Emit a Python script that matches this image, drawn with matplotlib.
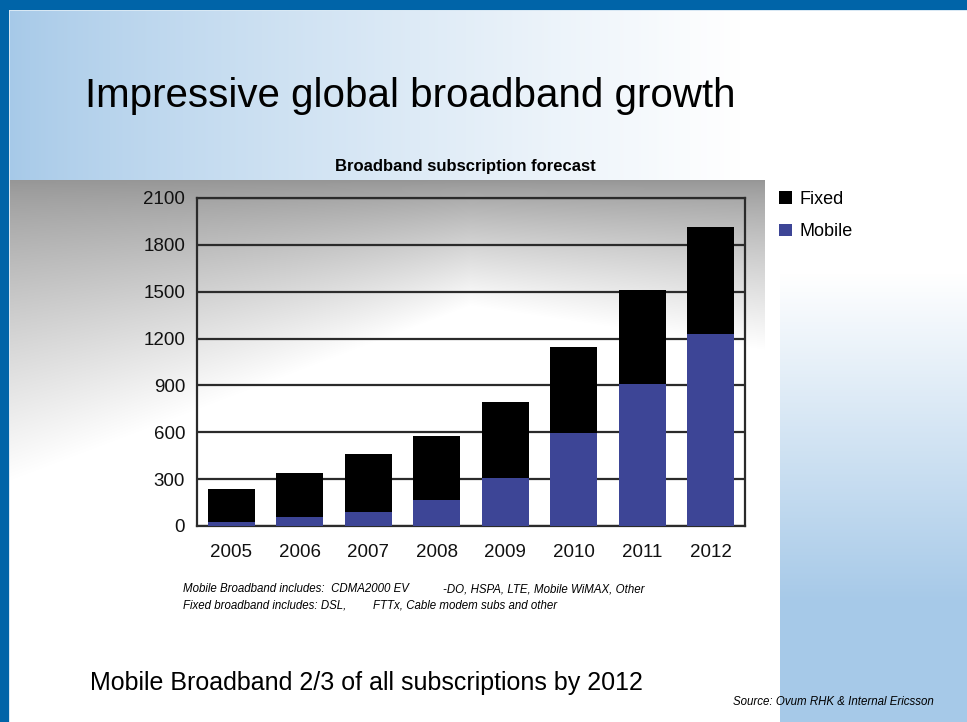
import numpy as np
import matplotlib.pyplot as plt

plt.rcParams['font.family'] = ['Liberation Sans', 'DejaVu Sans']

# Data
years = ['2005', '2006', '2007', '2008', '2009', '2010', '2011', '2012']
mobile = [28, 60, 92, 164, 309, 597, 906, 1230]
fixed = [212, 277, 366, 412, 486, 548, 608, 682]
yticks = [0, 300, 600, 900, 1200, 1500, 1800, 2100]

title = 'Impressive global broadband growth'
subtitle = 'Broadband subscription forecast'
note_mobile = ['Mobile Broadband includes:  CDMA2000 EV', '-DO, HSPA, LTE, Mobile WiMAX, Other']
note_fixed = ['Fixed broadband includes: DSL,', 'FTTx, Cable modem subs and other']
footer = 'Mobile Broadband 2/3 of all subscriptions by 2012'
source = 'Source: Ovum RHK & Internal Ericsson'

W, H = 967, 722
fig = plt.figure(figsize=(W / 100, H / 100), dpi=100)

# slide background: blue border, gradients
yy, xx = np.mgrid[0:H, 0:W].astype(float)
light_blue = np.array([166, 201, 232]) / 255
grey = np.array([150, 150, 150]) / 255
dark_blue = np.array([0, 100, 168]) / 255


def fade(col, t):
    return col[None, None, :] * (1 - t[..., None]) + t[..., None]


top_col = fade(light_blue, np.clip((xx - 10) / 730, 0, 1) ** 0.8)
yend = 305 + 0.38 * np.clip(470 - xx, 0, None) + 0.15 * np.clip(xx - 470, 0, None)
grey_col = fade(grey, np.clip((yy - 180) / (yend - 180), 0, 1) ** 0.8)
right_col = fade(light_blue, 1 - np.clip((yy - 273) / 330, 0, 1))

bg = np.ones((H, W, 3))
m = yy < 180
bg[m] = top_col[m]
m = (yy >= 180) & (xx < 765)
bg[m] = grey_col[m]
m = (yy >= 273) & (xx >= 780)
bg[m] = right_col[m]
bg[10, 9:] = [0.85, 0.91, 0.96]
bg[10:, 9] = [0.85, 0.91, 0.96]
bg[:10, :] = dark_blue
bg[:, :9] = dark_blue

bg_ax = fig.add_axes([0, 0, 1, 1], zorder=-10)
bg_ax.imshow(bg, aspect='auto', interpolation='bilinear')
bg_ax.axis('off')

# chart
ax = fig.add_axes([197 / W, 1 - 526 / H, 548 / W, 328 / H])
ax.patch.set_alpha(0)
x = np.arange(len(years))
b_mob = ax.bar(x, mobile, width=0.68, color='#3D4596', zorder=3)
b_fix = ax.bar(x, fixed, bottom=mobile, width=0.68, color='black', zorder=3)

ax.set_xlim(-0.5, len(years) - 0.5)
ax.set_ylim(0, 2100)
ax.set_yticks(yticks)
ax.set_xticks(x)
ax.set_xticklabels(years)
ax.yaxis.grid(True, color='#2b2b2b', lw=1.6, zorder=1)
ax.set_axisbelow(True)
for s in ax.spines.values():
    s.set_color('#2b2b2b')
    s.set_linewidth(1.6)
ax.tick_params(axis='y', length=0, labelsize=13.5, pad=8.5, colors='#111111')
ax.tick_params(axis='x', length=0, labelsize=13.5, pad=13, colors='#111111')

ax.legend([b_fix, b_mob], ['Fixed', 'Mobile'], loc='upper left',
          bbox_to_anchor=(779 / W, 1 - 191 / H), bbox_transform=fig.transFigure,
          frameon=False, fontsize=13, handlelength=0.7, handleheight=0.7,
          handletextpad=0.45, labelspacing=0.85, borderpad=0, borderaxespad=0)

# texts
fig.text(85 / W, 1 - 96 / H, title, fontsize=29, va='center')
fig.text(465 / W, 1 - 166 / H, subtitle, fontsize=12, weight='bold',
         ha='center', va='center')
fig.text(183 / W, 1 - 589 / H, note_mobile[0], fontsize=8.3, style='italic', va='center')
fig.text(443 / W, 1 - 589 / H, note_mobile[1], fontsize=8.3, style='italic', va='center')
fig.text(183 / W, 1 - 605 / H, note_fixed[0], fontsize=8.3, style='italic', va='center')
fig.text(373 / W, 1 - 605 / H, note_fixed[1], fontsize=8.3, style='italic', va='center')
fig.text(90 / W, 1 - 683 / H, footer, fontsize=18, va='center')
fig.text(733 / W, 1 - 702 / H, source, fontsize=8.3, style='italic', va='center')

fig.savefig('out.png', dpi=100)
